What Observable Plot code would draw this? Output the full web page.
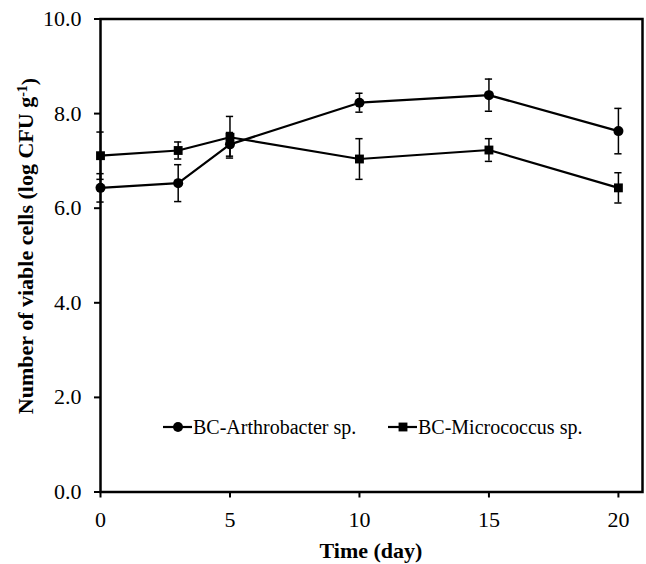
<!DOCTYPE html>
<html>
<head>
<meta charset="utf-8">
<script src="https://cdn.jsdelivr.net/npm/d3@7"></script>
<script src="https://cdn.jsdelivr.net/npm/@observablehq/plot@0.6"></script>
<style>
  html, body { margin: 0; padding: 0; background: #fff; }
  #chart { position: relative; width: 646px; height: 564px; }
</style>
</head>
<body>
<div id="chart"></div>
<script>
const days = [0, 3, 5, 10, 15, 20];
const seriesNames = ["BC-Arthrobacter sp.", "BC-Micrococcus sp."];
const arthroValues = [6.43, 6.53, 7.35, 8.23, 8.39, 7.63];
const arthroErrors = [0.30, 0.39, 0.25, 0.20, 0.34, 0.48];
const microValues = [7.11, 7.22, 7.50, 7.04, 7.23, 6.43];
const microErrors = [0.50, 0.18, 0.44, 0.43, 0.24, 0.32];
const xTicks = [0, 5, 10, 15, 20];
const yTicks = [0, 2, 4, 6, 8, 10];
const symbols = ["circle", "square"];

const rows = [];
days.forEach((d, i) => {
  rows.push({day: d, value: arthroValues[i], err: arthroErrors[i], series: seriesNames[0]});
  rows.push({day: d, value: microValues[i], err: microErrors[i], series: seriesNames[1]});
});

const FONT = "'Liberation Serif', 'Times New Roman', serif";
const capHalf = 0.14;

const plot = Plot.plot({
  width: 646,
  height: 564,
  marginLeft: 100,
  marginRight: 4,
  marginTop: 18.5,
  marginBottom: 72.5,
  style: {fontFamily: FONT, fontSize: "22px", color: "#000", background: "#fff", overflow: "visible"},
  x: {domain: [0, 20.93]},
  y: {domain: [0, 10]},
  symbol: {domain: seriesNames, range: symbols},
  marks: [
    Plot.axisX({ticks: xTicks, tickSize: 6, tickPadding: 13, strokeWidth: 2, label: null, fontSize: 22}),
    Plot.axisY({ticks: yTicks, tickSize: 6, tickPadding: 13, strokeWidth: 2, tickFormat: d3.format(".1f"), label: null, fontSize: 22}),
    Plot.ruleX(rows, {x: "day", y1: d => d.value - d.err, y2: d => d.value + d.err, stroke: "#000", strokeWidth: 1.5}),
    Plot.ruleY(rows, {y: d => d.value - d.err, x1: d => d.day - capHalf, x2: d => d.day + capHalf, stroke: "#000", strokeWidth: 1.5}),
    Plot.ruleY(rows, {y: d => d.value + d.err, x1: d => d.day - capHalf, x2: d => d.day + capHalf, stroke: "#000", strokeWidth: 1.5}),
    Plot.line(rows, {x: "day", y: "value", z: "series", stroke: "#000", strokeWidth: 2.2}),
    Plot.dot(rows, {x: "day", y: "value", symbol: "series", fill: "#000", stroke: "none", r: 5}),
    Plot.frame({stroke: "#000", strokeWidth: 2.5})
  ]
});

document.getElementById("chart").appendChild(plot);

const svg = d3.select(plot);

// Y axis title with superscript
const yt = svg.append("text")
  .attr("transform", "translate(33,246) rotate(-90)")
  .attr("text-anchor", "middle")
  .attr("font-family", FONT)
  .attr("font-weight", "bold")
  .attr("font-size", 22)
  .attr("fill", "#000");
yt.append("tspan").text("Number of viable cells (log CFU g");
yt.append("tspan").attr("dy", "-0.4em").attr("font-size", 14).text("-1");
yt.append("tspan").attr("dy", "0.4em").text(")");

// X axis title
svg.append("text")
  .attr("x", 371)
  .attr("y", 558)
  .attr("text-anchor", "middle")
  .attr("font-family", FONT)
  .attr("font-weight", "bold")
  .attr("font-size", 22)
  .attr("fill", "#000")
  .text("Time (day)");

// Legend (inside plot area)
const legendX = [163, 388];
const legendY = 427;
const legend = svg.append("g").attr("font-family", FONT).attr("font-size", 20).attr("text-anchor", "start");
seriesNames.forEach((name, i) => {
  const g = legend.append("g").attr("transform", `translate(${legendX[i]},${legendY})`);
  g.append("line").attr("x1", 0).attr("x2", 29).attr("y1", 0).attr("y2", 0)
    .attr("stroke", "#000").attr("stroke-width", 2.2);
  const sym = symbols[i] === "circle" ? d3.symbolCircle : d3.symbolSquare;
  g.append("path").attr("transform", "translate(15,0)")
    .attr("d", d3.symbol(sym, Math.PI * 25)())
    .attr("fill", "#000");
  g.append("text").attr("x", 30).attr("y", 0).attr("dy", "0.35em").attr("fill", "#000").attr("text-anchor", "start").text(name);
});
</script>
</body>
</html>
